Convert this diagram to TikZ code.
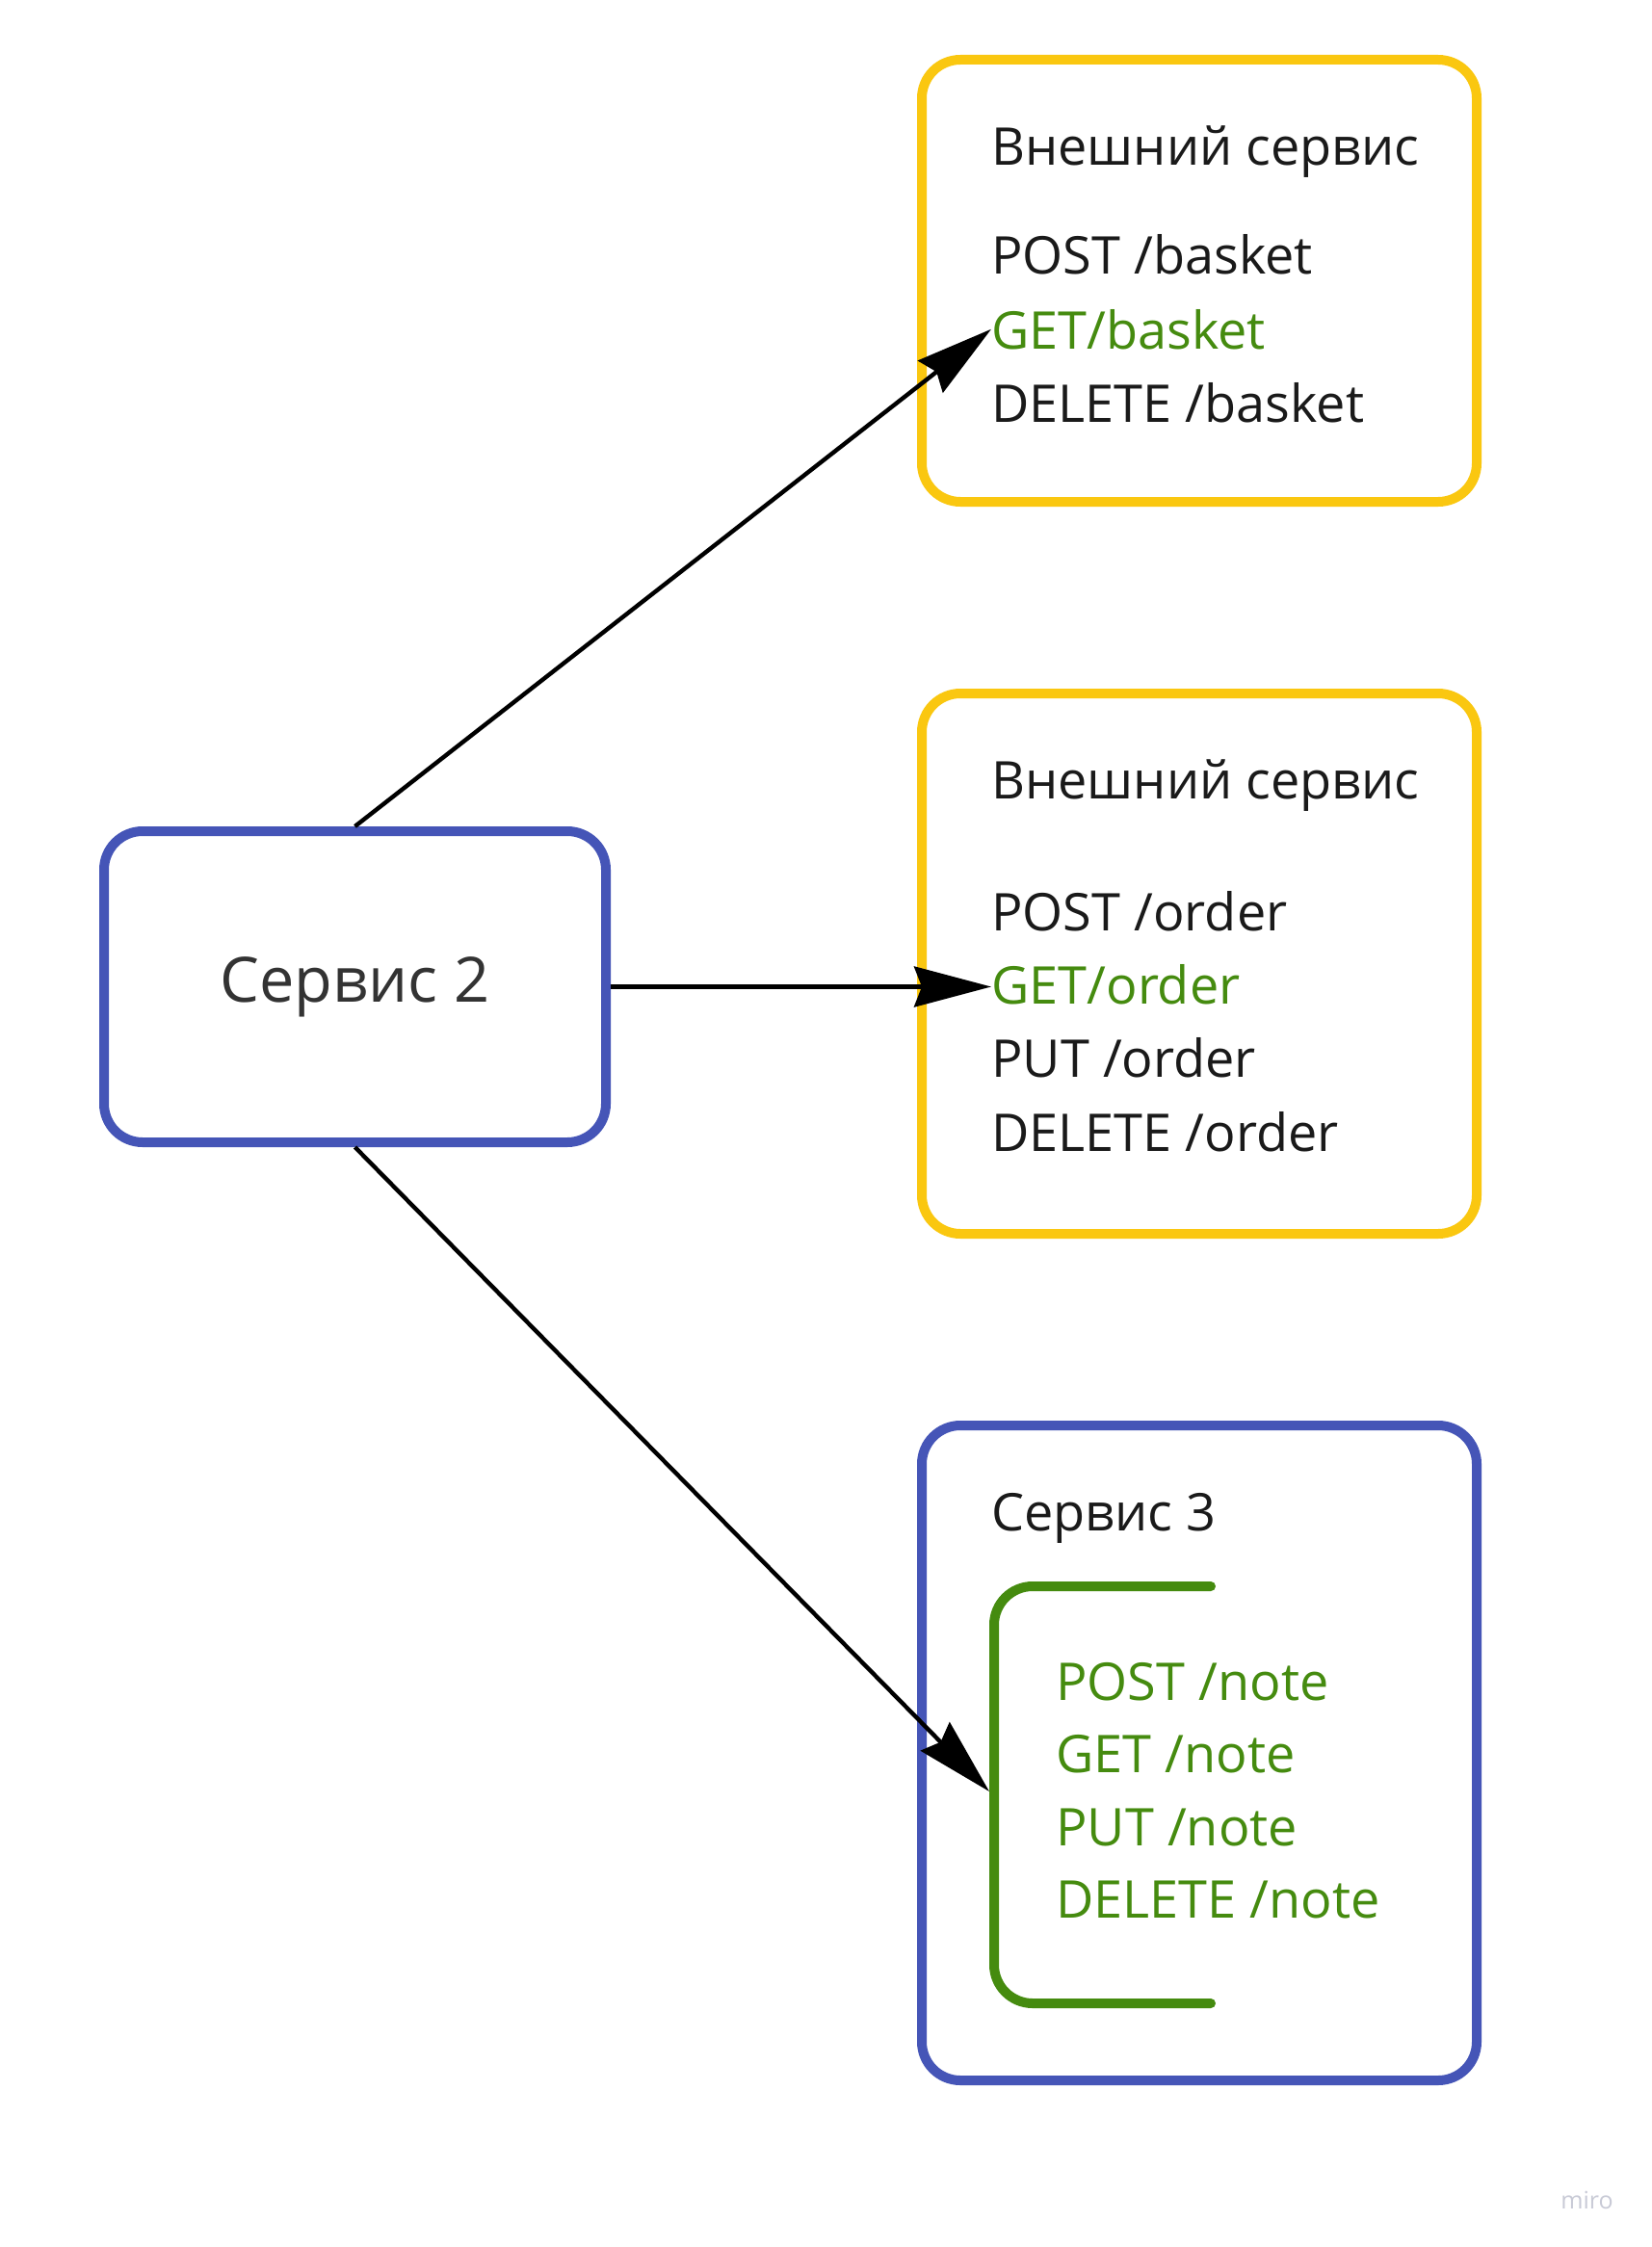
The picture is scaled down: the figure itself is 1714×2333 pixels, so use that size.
\documentclass[tikz,border=0pt]{standalone}
\usepackage{fontspec}
\setmainfont{Open Sans}
\usetikzlibrary{arrows.meta}
\definecolor{myyellow}{HTML}{FAC710}
\definecolor{myblue}{HTML}{4555B7}
\definecolor{mygreen}{HTML}{458B0F}
\definecolor{txtblack}{HTML}{1A1A1A}
\definecolor{txtgray}{HTML}{333333}
\definecolor{wmgray}{HTML}{C8CAD6}
\begin{document}
\begin{tikzpicture}[x=0.5pt,y=-0.5pt,
  box/.style={draw, line width=5pt, rounded corners=20pt, inner sep=0pt},
  ybox/.style={box, draw=myyellow},
  bbox/.style={box, draw=myblue},
  itemtxt/.style={anchor=base west, inner sep=0pt, font=\fontsize{27pt}{30pt}\selectfont, text=txtblack},
  gtxt/.style={itemtxt, text=mygreen},
  conn/.style={draw=black, line width=2.2pt, -{Stealth[length=40pt,width=21pt,inset=4pt]}},
]
\useasboundingbox[fill=white] (0,0) rectangle (1714,2333);

% external service 1
\node[ybox, minimum width=288pt, minimum height=229.5pt] (ext1) at (1245,291.5) {};
\node[itemtxt] (t1) at (1029,172) {Внешний сервис};
\node[itemtxt] (post1) at (1029,285) {POST /basket};
\node[gtxt] (get1) at (1029,362) {GET/basket};
\node[itemtxt] (del1) at (1029,438) {DELETE /basket};

% external service 2
\node[ybox, minimum width=288pt, minimum height=280.5pt] (ext2) at (1245,1000.5) {};
\node[itemtxt] (t2) at (1029,829) {Внешний сервис};
\node[itemtxt] (post2) at (1029,966) {POST /order};
\node[gtxt] (get2) at (1029,1042) {GET/order};
\node[itemtxt] (put2) at (1029,1118) {PUT /order};
\node[itemtxt] (del2) at (1029,1195) {DELETE /order};

% service 2
\node[bbox, minimum width=260.5pt, minimum height=161.5pt,
      font=\fontsize{32.4pt}{40pt}\selectfont, text=txtgray] (s2) at (368.5,1024.5) {Сервис 2};

% service 3
\node[bbox, minimum width=288pt, minimum height=340pt] (s3) at (1245,1820) {};
\node[itemtxt] (t3) at (1029,1589) {Сервис 3};
\draw[mygreen, line width=5pt, rounded corners=20pt, line cap=round]
  (1257,1647) -- (1032,1647) -- (1032,2080) -- (1257,2080);
\coordinate (brk) at (1027,1860);
\node[gtxt] (post3) at (1096,1765) {POST /note};
\node[gtxt] (get3) at (1096,1840) {GET /note};
\node[gtxt] (put3) at (1096,1916) {PUT /note};
\node[gtxt] (del3) at (1096,1991) {DELETE /note};

% connectors
\draw[conn] (s2.north) -- (get1.west);
\draw[conn] (s2.east) -- (s2.east -| get2.west);
\draw[conn] (s2.south) -- (brk);

% watermark
\node[anchor=base west, inner sep=0pt, font=\fontsize{12.5pt}{14pt}\selectfont, text=wmgray] (wm) at (1620,2293) {miro};
\end{tikzpicture}
\end{document}
